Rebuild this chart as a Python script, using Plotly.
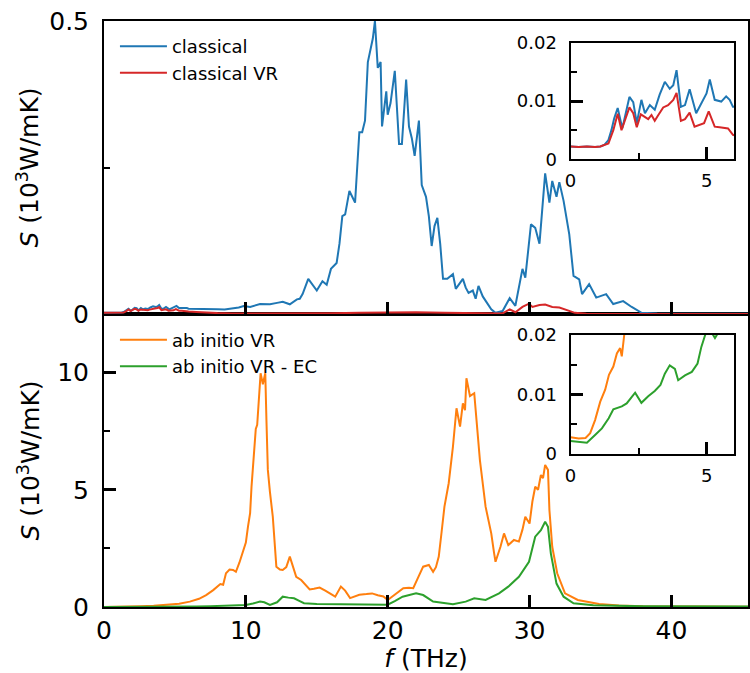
import plotly.graph_objects as go

# ---------------- data ----------------
f_classical = [0, 0.3, 0.6, 0.9, 1.1, 1.25, 1.39, 1.5, 1.6, 1.73, 1.9, 2.0, 2.16, 2.3, 2.43, 2.6, 2.73,
               2.91, 3.09, 3.27, 3.46, 3.64, 3.77, 3.89, 4.05, 4.2, 4.37, 4.61, 4.8, 4.99, 5.11, 5.29,
               5.53, 5.71, 5.84, 5.96, 6.5, 7.0, 7.5, 8.0, 8.5, 9.0, 9.5, 9.85, 10.3, 11.0, 11.7, 12.2,
               12.6, 13.1, 13.6, 13.8, 14.0, 14.4, 14.7, 15.0, 15.4, 15.7, 16.0, 16.4, 16.6, 16.8, 17.0,
               17.3, 17.5, 17.7, 17.85, 18.0, 18.2, 18.4, 18.6, 18.8, 18.95, 19.1, 19.2, 19.3, 19.5, 19.6,
               19.75, 19.9, 20.0, 20.2, 20.5, 20.65, 20.8, 21.0, 21.3, 21.5, 21.7, 21.9, 22.05, 22.2, 22.4,
               22.7, 22.9, 23.1, 23.3, 23.5, 23.7, 23.9, 24.2, 24.6, 24.8, 25.0, 25.3, 25.5, 25.7, 26.0,
               26.2, 26.4, 26.7, 27.0, 27.3, 27.6, 28.1, 28.6, 29.0, 29.5, 29.7, 30.1, 30.4, 30.7, 30.9,
               31.1, 31.4, 31.6, 31.9, 32.1, 32.4, 32.8, 33.1, 33.5, 33.7, 34.2, 34.7, 35.4, 35.9, 36.6,
               37.2, 37.9, 39.0, 42.0, 45.4]
S_classical = [0.0022, 0.0021, 0.0022, 0.0021, 0.0022, 0.0025, 0.0033, 0.0050, 0.0070, 0.0088, 0.0053,
               0.0075, 0.0107, 0.0098, 0.0062, 0.0102, 0.0079, 0.0093, 0.0085, 0.0111, 0.0133, 0.0121,
               0.0127, 0.0153, 0.0090, 0.0093, 0.0120, 0.0079, 0.0096, 0.0113, 0.0137, 0.0102, 0.0099,
               0.0108, 0.0102, 0.0090, 0.009, 0.008, 0.0085, 0.008, 0.0075, 0.009, 0.011, 0.0137, 0.012,
               0.017, 0.0166, 0.019, 0.021, 0.0166, 0.025, 0.026, 0.034, 0.06, 0.05, 0.04, 0.056, 0.05,
               0.077, 0.087, 0.12, 0.167, 0.17, 0.21, 0.2, 0.19, 0.25, 0.31, 0.31, 0.33, 0.43, 0.45, 0.47,
               0.5, 0.45, 0.42, 0.43, 0.32, 0.35, 0.38, 0.34, 0.36, 0.415, 0.35, 0.29, 0.29, 0.40, 0.32,
               0.30, 0.27, 0.30, 0.33, 0.22, 0.20, 0.167, 0.116, 0.15, 0.164, 0.12, 0.06, 0.06, 0.068,
               0.043, 0.05, 0.06, 0.045, 0.036, 0.04, 0.026, 0.048, 0.03, 0.019, 0.008, 0.002, 0.005,
               0.027, 0.014, 0.077, 0.062, 0.153, 0.147, 0.12, 0.18, 0.24, 0.19, 0.227, 0.20, 0.225,
               0.193, 0.136, 0.065, 0.059, 0.034, 0.051, 0.028, 0.034, 0.017, 0.022, 0.012, 0.002,
               0.001, 0.0008, 0.0005]

f_classical_vr = [0, 0.3, 0.6, 0.9, 1.09, 1.25, 1.39, 1.57, 1.73, 1.87, 1.95, 2.16, 2.3, 2.43, 2.58,
                  2.73, 2.85, 2.97, 3.09, 3.21, 3.40, 3.58, 3.77, 3.89, 4.05, 4.2, 4.37, 4.55, 4.74, 4.9,
                  5.07, 5.29, 5.47, 5.78, 5.96, 6.5, 7.0, 8.0, 9.0, 12.0, 16.0, 18.0, 20.0, 21.0, 22.0,
                  24.0, 26.0, 27.5, 28.1, 28.6, 29.0, 29.5, 29.96, 30.2, 30.7, 31.1, 31.6, 32.1, 32.7,
                  33.2, 34.0, 45.4]
S_classical_vr = [0.0022, 0.0021, 0.0022, 0.0021, 0.0022, 0.0024, 0.0027, 0.0050, 0.0078, 0.0050,
                  0.0060, 0.0089, 0.0079, 0.0055, 0.0077, 0.0073, 0.0069, 0.0076, 0.0066, 0.0075,
                  0.0089, 0.0093, 0.0102, 0.0114, 0.0066, 0.0069, 0.0080, 0.0056, 0.0059, 0.0062,
                  0.0082, 0.0056, 0.0055, 0.0053, 0.0042, 0.0035, 0.0025, 0.0015, 0.001, 0.0008,
                  0.0012, 0.002, 0.003, 0.0035, 0.003, 0.002, 0.0015, 0.001, 0.001, 0.008, 0.003,
                  0.012, 0.0177, 0.012, 0.0154, 0.016, 0.012, 0.011, 0.0065, 0.002, 0.0005, 0.0002]

f_abinitio_vr = [0, 0.3, 0.55, 0.72, 0.9, 1.09, 1.27, 1.41, 1.57, 1.70, 1.82, 1.88, 1.97, 2.2, 2.6,
                 3.5, 4.4, 5.3, 6.05, 6.7, 7.2, 7.45, 7.7, 8.2, 8.4, 8.6, 8.85, 9.1, 9.3, 9.55, 9.8, 10.0,
                 10.15, 10.3, 10.4, 10.6, 10.7, 10.8, 10.9, 11.04, 11.2, 11.37, 11.45, 11.55, 11.7,
                 11.9, 12.15, 12.4, 12.6, 12.85, 13.1, 13.3, 13.55, 13.9, 14.2, 14.5, 14.8, 15.2, 15.6,
                 16.1, 16.3, 16.7, 17.0, 17.35, 17.7, 18.0, 18.5, 18.9, 19.3, 19.7, 20.0, 20.3, 20.7,
                 21.1, 21.5, 21.8, 22.1, 22.5, 22.9, 23.2, 23.4, 23.6, 23.8, 24.0, 24.3, 24.6, 24.85,
                 25.1, 25.3, 25.45, 25.55, 25.8, 26.1, 26.3, 26.5, 26.9, 27.3, 27.5, 27.6, 27.95, 28.2,
                 28.5, 28.9, 29.25, 29.5, 29.7, 30.0, 30.2, 30.4, 30.6, 30.8, 30.95, 31.1, 31.3, 31.4,
                 31.6, 31.95, 32.5, 33.4, 34.9, 36.3, 38.0, 41.0, 45.4]
S_abinitio_vr = [0.0028, 0.0026, 0.0027, 0.0035, 0.0057, 0.0088, 0.0108, 0.0133, 0.0147, 0.0169,
                 0.0178, 0.0164, 0.0200, 0.023, 0.03, 0.05, 0.085, 0.14, 0.23, 0.35, 0.51, 0.6, 0.72, 0.98,
                 0.95, 1.44, 1.6, 1.58, 1.5, 1.9, 2.43, 2.75, 3.43, 4.0, 5.13, 6.98, 7.6, 7.77, 8.8,
                 9.97, 9.5, 9.97, 8.0, 5.85, 4.9, 3.85, 1.72, 1.6, 1.58, 1.7, 2.15, 1.8, 1.29, 1.15,
                 0.95, 0.75, 0.78, 0.83, 0.7, 0.52, 0.44, 0.87, 0.7, 0.38, 0.45, 0.52, 0.55, 0.58, 0.5,
                 0.45, 0.3, 0.44, 0.6, 0.8, 0.82, 0.8, 1.2, 1.72, 1.79, 1.5, 1.7, 2.15, 3.2, 4.28, 5.28,
                 6.84, 8.48, 7.7, 8.69, 8.4, 9.76, 9.0, 9.12, 7.7, 6.27, 4.28, 3.14, 2.3, 1.93, 2.57,
                 3.14, 2.64, 2.86, 2.79, 3.3, 3.85, 3.56, 4.5, 5.13, 5.0, 5.63, 5.5, 6.06, 5.85, 4.14,
                 2.57, 1.44, 0.58, 0.3, 0.13, 0.06, 0.03, 0.02, 0.01]

f_abinitio_vr_ec = [0, 0.3, 0.6, 0.9, 1.15, 1.4, 1.57, 1.88, 2.06, 2.37, 2.6, 2.85, 3.09, 3.3, 3.46,
                    3.64, 3.83, 3.95, 4.2, 4.45, 4.66, 4.8, 4.94, 5.1, 5.3, 5.5, 5.7, 6.5, 7.5, 8.5,
                    9.3, 10.0, 10.5, 11.0, 11.3, 11.7, 12.2, 12.6, 13.0, 13.4, 13.8, 14.1, 15.0, 16.4,
                    17.3, 18.3, 19.2, 20.0, 20.5, 21.05, 22.0, 22.5, 23.2, 24.6, 25.5, 26.1, 26.9,
                    27.85, 28.5, 29.25, 29.96, 30.4, 30.8, 31.1, 31.3, 31.5, 31.9, 32.4, 33.1, 34.5,
                    38.0, 45.4]
S_abinitio_vr_ec = [0.0022, 0.0020, 0.0019, 0.0032, 0.0043, 0.0060, 0.0075, 0.0080, 0.0085, 0.0103,
                    0.0086, 0.0097, 0.0106, 0.0116, 0.0135, 0.0149, 0.0143, 0.0124, 0.0132, 0.0138,
                    0.0152, 0.0180, 0.0200, 0.021, 0.0195, 0.021, 0.022, 0.025, 0.035, 0.05, 0.065,
                    0.085, 0.15, 0.23, 0.2, 0.09, 0.2, 0.44, 0.4, 0.37, 0.25, 0.16, 0.13, 0.12, 0.1,
                    0.09, 0.09, 0.1, 0.25, 0.44, 0.58, 0.51, 0.23, 0.12, 0.23, 0.37, 0.3, 0.58, 0.87,
                    1.29, 1.93, 3.0, 3.28, 3.64, 3.42, 2.29, 1.0, 0.44, 0.16, 0.07, 0.03, 0.02]

names = ["classical", "classical VR", "ab initio VR", "ab initio VR - EC"]
colors = ["#1f77b4", "#d62728", "#ff7f0e", "#2ca02c"]

# ---------------- figure ----------------
W, H = 750, 673
ML, MR, MT, MB = 104, 0, 21, 66
FONT = "DejaVu Sans"

fig = go.Figure()

series_top = [(f_classical, S_classical), (f_classical_vr, S_classical_vr)]
series_bot = [(f_abinitio_vr, S_abinitio_vr), (f_abinitio_vr_ec, S_abinitio_vr_ec)]

for i, (fx, sy) in enumerate(series_top):
    fig.add_trace(go.Scatter(x=fx, y=sy, mode="lines", name=names[i],
                             line=dict(color=colors[i], width=2), xaxis="x2", yaxis="y2",
                             legend="legend"))
for i, (fx, sy) in enumerate(series_bot):
    fig.add_trace(go.Scatter(x=fx, y=sy, mode="lines", name=names[i + 2],
                             line=dict(color=colors[i + 2], width=2), xaxis="x", yaxis="y",
                             legend="legend2"))
for i, (fx, sy) in enumerate(series_top):
    fig.add_trace(go.Scatter(x=fx, y=sy, mode="lines", showlegend=False,
                             line=dict(color=colors[i], width=2), xaxis="x3", yaxis="y3"))
for i, (fx, sy) in enumerate(series_bot):
    fig.add_trace(go.Scatter(x=fx, y=sy, mode="lines", showlegend=False,
                             line=dict(color=colors[i + 2], width=2), xaxis="x4", yaxis="y4"))

pw = W - ML - MR
ph = H - MT - MB


def axstyle(size, **kw):
    d = dict(showline=True, linecolor="black", linewidth=2, mirror=True, ticks="inside",
             ticklen=12, tickwidth=2.5, tickcolor="black", showgrid=False, zeroline=False,
             tickfont=dict(family=FONT, size=size, color="black"))
    d.update(kw)
    return d


minor_style = dict(ticks="inside", ticklen=6, tickwidth=1.5, tickcolor="black", showgrid=False)

ytitle = "<i>S</i> (10<sup>3</sup>W/mK)"

# inset domains (pixels -> fractions)
ix0, ix1 = (572 - ML) / pw, (736 - ML) / pw
by = H - MB
top_in = ((by - 159.3) / ph, (by - 42.7) / ph)
bot_in = ((by - 454) / ph, (by - 335) / ph)

fig.update_layout(
    width=W, height=H,
    margin=dict(l=ML, r=MR, t=MT, b=MB, pad=0),
    paper_bgcolor="white", plot_bgcolor="white",
    font=dict(family=FONT, color="black"),
    xaxis=axstyle(25, domain=[0, 1], anchor="y", range=[0, 45.4], dtick=10, tick0=0,
                  title=dict(text="<i>f</i> (THz)", font=dict(family=FONT, size=25), standoff=4)),
    yaxis=axstyle(25, domain=[0, 0.5], anchor="x", range=[0, 12.5], dtick=5, tick0=0,
                  minor=dict(dtick=2.5, **minor_style), ticklabelstandoff=8,
                  title=dict(text=ytitle, font=dict(family=FONT, size=25), standoff=10)),
    xaxis2=axstyle(25, domain=[0, 1], anchor="y2", matches="x", range=[0, 45.4], dtick=10,
                   tick0=0, showticklabels=False),
    yaxis2=axstyle(25, domain=[0.5, 1], anchor="x2", range=[0, 0.5], dtick=0.5, tick0=0,
                   minor=dict(dtick=0.25, **minor_style), ticklabelstandoff=8,
                   title=dict(text=ytitle, font=dict(family=FONT, size=25), standoff=3)),
    xaxis3=axstyle(18, domain=[ix0, ix1], anchor="y3", range=[0, 6], tickvals=[0, 5],
                   minor=dict(tickvals=[2.5], **minor_style), ticklabelstandoff=4),
    yaxis3=axstyle(18, domain=list(top_in), anchor="x3", range=[0, 0.02], dtick=0.01, tick0=0,
                   minor=dict(dtick=0.005, **minor_style), ticklabelstandoff=8),
    xaxis4=axstyle(18, domain=[ix0, ix1], anchor="y4", range=[0, 6], tickvals=[0, 5],
                   minor=dict(tickvals=[2.5], **minor_style), ticklabelstandoff=4),
    yaxis4=axstyle(18, domain=list(bot_in), anchor="x4", range=[0, 0.02], dtick=0.01, tick0=0,
                   minor=dict(dtick=0.005, **minor_style), ticklabelstandoff=8),
    legend=dict(x=0.017, y=0.988, xanchor="left", yanchor="top", bgcolor="rgba(0,0,0,0)",
                font=dict(family=FONT, size=18, color="black"), itemwidth=47),
    legend2=dict(x=0.017, y=0.487, xanchor="left", yanchor="top", bgcolor="rgba(0,0,0,0)",
                 font=dict(family=FONT, size=18, color="black"), itemwidth=47),
    showlegend=True,
)

fig.write_html("out.html")
